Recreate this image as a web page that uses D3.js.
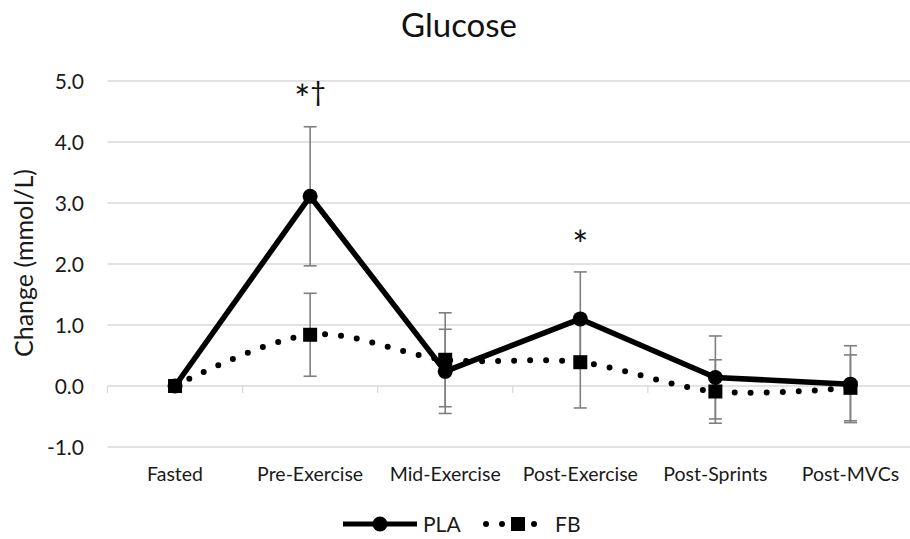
<!DOCTYPE html>
<html>
<head>
<meta charset="utf-8">
<script src="https://cdn.jsdelivr.net/npm/d3@7/dist/d3.min.js"></script>
<style>
  html, body { margin: 0; padding: 0; background: #fff; }
  svg { display: block; font-family: Lato, "Open Sans", sans-serif; }
</style>
</head>
<body>
<svg id="chart" width="910" height="539"></svg>
<script>
// Time points
const categories = ["Fasted", "Pre-Exercise", "Mid-Exercise", "Post-Exercise", "Post-Sprints", "Post-MVCs"];
// Placebo: mean change and SD (mmol/L)
const plaMean = [0, 3.11, 0.24, 1.10, 0.14, 0.03];
const plaSD   = [0, 1.14, 0.69, 0.77, 0.68, 0.63];
// FB: mean change and SD (mmol/L)
const fbMean  = [0, 0.84, 0.43, 0.39, -0.09, -0.03];
const fbSD    = [0, 0.68, 0.77, 0.75, 0.52, 0.54];
// Y axis ticks
const yTicks = [-1, 0, 1, 2, 3, 4, 5];
// Significance markers
const annotations = [
  { cat: "Pre-Exercise", value: 4.68, text: "*\u2020" },
  { cat: "Post-Exercise", value: 2.28, text: "*" }
];

const svg = d3.select("#chart");
const x = d3.scaleBand().domain(categories).range([107.5, 918]).paddingInner(0).paddingOuter(0);
const y = d3.scaleLinear().domain([-1, 5]).range([447, 81]);
const cx = c => x(c) + x.bandwidth() / 2;
const gridColor = "#d9d9d9";
const textColor = "#1a1a1a";

// Horizontal gridlines
svg.append("g").selectAll("line").data(yTicks).join("line")
  .attr("x1", 107.5).attr("x2", 918)
  .attr("y1", d => y(d)).attr("y2", d => y(d))
  .attr("stroke", gridColor).attr("stroke-width", 1.3);

// Category axis along zero, with boundary ticks
const bounds = categories.map(c => x(c)).concat([x.range()[1]]);
svg.append("g").selectAll("line").data(bounds).join("line")
  .attr("x1", d => d).attr("x2", d => d)
  .attr("y1", y(0)).attr("y2", y(0) + 7)
  .attr("stroke", gridColor).attr("stroke-width", 1.3);

// Y tick labels (plain hyphen for negatives)
const fmt = d3.format(".1f");
const yAxis = d3.axisLeft(y).tickValues(yTicks).tickSize(0).tickPadding(0)
  .tickFormat(d => fmt(d).replace("\u2212", "-"));
const ay = svg.append("g").attr("transform", "translate(84,0)").call(yAxis);
ay.select(".domain").remove();
ay.selectAll("text").attr("font-size", 21).attr("fill", textColor)
  .attr("font-family", "Lato, sans-serif").attr("dy", "0.36em");

// Category labels
svg.append("g").selectAll("text").data(categories).join("text")
  .attr("x", d => cx(d)).attr("y", 481)
  .attr("text-anchor", "middle").attr("font-size", 19.5).attr("fill", textColor)
  .text(d => d);

// Y axis title
svg.append("text")
  .attr("transform", "translate(33,263) rotate(-90)")
  .attr("text-anchor", "middle").attr("font-size", 25).attr("fill", textColor)
  .text("Change (mmol/L)");

// Chart title
svg.append("text")
  .attr("x", 459).attr("y", 37).attr("text-anchor", "middle")
  .attr("font-size", 33).attr("fill", "#111")
  .text("Glucose");

// Error bars
function errorBars(means, sds) {
  const g = svg.append("g").attr("stroke", "#7f7f7f").attr("stroke-width", 1.6).attr("fill", "none");
  categories.forEach((c, i) => {
    if (!sds[i]) return;
    const xc = cx(c), hi = y(means[i] + sds[i]), lo = y(means[i] - sds[i]);
    g.append("line").attr("x1", xc).attr("x2", xc).attr("y1", hi).attr("y2", lo);
    g.append("line").attr("x1", xc - 6.5).attr("x2", xc + 6.5).attr("y1", hi).attr("y2", hi);
    g.append("line").attr("x1", xc - 6.5).attr("x2", xc + 6.5).attr("y1", lo).attr("y2", lo);
  });
}
errorBars(plaMean, plaSD);
errorBars(fbMean, fbSD);

// FB: smoothed dotted line with square markers
const fbPts = categories.map((c, i) => [cx(c), y(fbMean[i])]);
svg.append("path")
  .attr("d", d3.line().curve(d3.curveCardinal.tension(0))(fbPts))
  .attr("fill", "none").attr("stroke", "#000").attr("stroke-width", 6)
  .attr("stroke-linecap", "round").attr("stroke-dasharray", "0 16");
svg.append("g").selectAll("rect").data(fbPts).join("rect")
  .attr("x", d => d[0] - 7).attr("y", d => d[1] - 7)
  .attr("width", 14).attr("height", 14).attr("fill", "#000");

// PLA: solid line with circle markers
const plaPts = categories.map((c, i) => [cx(c), y(plaMean[i])]);
svg.append("path")
  .attr("d", d3.line()(plaPts))
  .attr("fill", "none").attr("stroke", "#000").attr("stroke-width", 5.5)
  .attr("stroke-linejoin", "round");
svg.append("g").selectAll("circle").data(plaPts).join("circle")
  .attr("cx", d => d[0]).attr("cy", d => d[1]).attr("r", 7.5).attr("fill", "#000");

// Significance annotations: the asterisk is set larger and lower than the dagger
const ann = svg.append("g").selectAll("text").data(annotations).join("text")
  .attr("x", d => cx(d.cat)).attr("y", d => y(d.value))
  .attr("text-anchor", "middle").attr("fill", "#111");
ann.selectAll("tspan").data(d => Array.from(d.text)).join("tspan")
  .attr("font-size", ch => ch === "*" ? 38 : 27)
  .attr("dy", (ch, i, nodes) => {
    if (ch === "*") return 12;
    const prev = i > 0 ? d3.select(nodes[i - 1]).datum() : null;
    return prev === "*" ? -12 : 0;
  })
  .text(ch => ch);

// Legend
const lg = svg.append("g").attr("transform", "translate(0,524)");
lg.append("line").attr("x1", 343).attr("x2", 417).attr("stroke", "#000").attr("stroke-width", 5);
lg.append("circle").attr("cx", 380).attr("r", 7.5).attr("fill", "#000");
lg.append("text").attr("x", 423).attr("y", 7.5).attr("font-size", 21).attr("fill", textColor).text("PLA");
lg.append("line").attr("x1", 486).attr("x2", 550).attr("stroke", "#000").attr("stroke-width", 6)
  .attr("stroke-linecap", "round").attr("stroke-dasharray", "0 16");
lg.append("rect").attr("x", 511).attr("y", -7).attr("width", 14).attr("height", 14).attr("fill", "#000");
lg.append("text").attr("x", 555).attr("y", 7.5).attr("font-size", 21).attr("fill", textColor).text("FB");
</script>
</body>
</html>
